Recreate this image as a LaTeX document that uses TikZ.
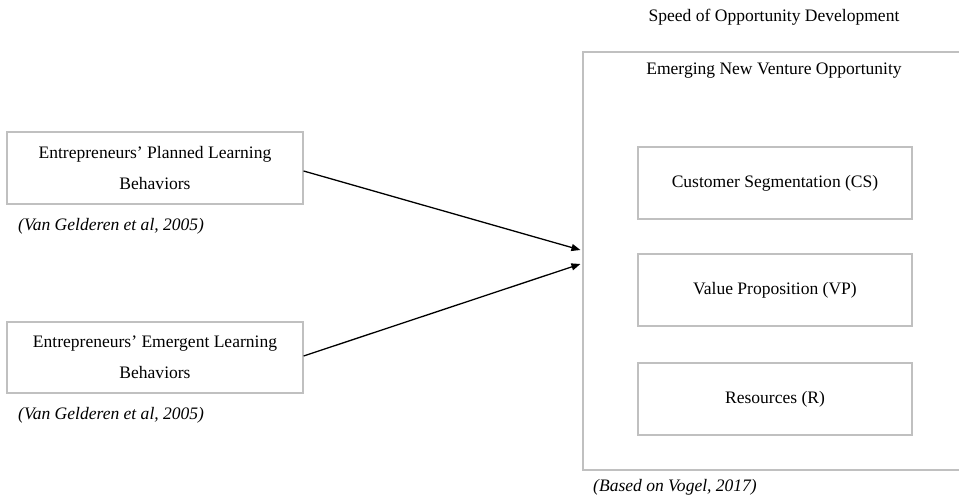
\documentclass[tikz,border=0pt]{standalone}
\usepackage{fontspec}
\setmainfont{Liberation Serif}
\usetikzlibrary{arrows.meta}
\definecolor{boxgray}{RGB}{192,192,192}
\newcommand{\bodysize}{\fontsize{17.6pt}{31pt}\selectfont}
\tikzset{
  panel/.style={draw=boxgray, line width=1.2bp, rectangle, inner sep=0pt, align=center},
  cite/.style={anchor=west, inner sep=0pt, font=\bodysize\itshape},
  flow/.style={line width=1.3bp, -{Triangle[length=9bp,width=7bp]}},
}
\begin{document}
\begin{tikzpicture}[x=1bp, y=-1bp, font=\bodysize]
\useasboundingbox[fill=white] (0,0) rectangle (959,498);

% learning behaviours (inputs)
\node[panel, minimum width=296bp, minimum height=72bp] (plan) at (155,168)
  {Entrepreneurs’ Planned Learning\\Behaviors};
\node[cite] (plancite) at (18,226) {(Van Gelderen et al, 2005)};

\node[panel, minimum width=296bp, minimum height=71bp] (emer) at (155,357.5)
  {Entrepreneurs’ Emergent Learning\\Behaviors};
\node[cite] (emercite) at (18,415) {(Van Gelderen et al, 2005)};

% opportunity frame (runs past the right margin)
\node[inner sep=0pt] (speed) at (774,17) {Speed of Opportunity Development};
\node[panel, minimum width=382bp, minimum height=418bp] (opp) at (774,261) {};
\node[inner sep=0pt] (emtitle) at (774,71) {Emerging New Venture Opportunity};

\node[panel, minimum width=274bp, minimum height=72bp] (cs) at (775,183) {Customer Segmentation (CS)};
\node[panel, minimum width=274bp, minimum height=72bp] (vp) at (775,290) {Value Proposition (VP)};
\node[panel, minimum width=274bp, minimum height=72bp] (res) at (775,399) {Resources (R)};

\node[cite] (vogel) at (593,487) {(Based on Vogel, 2017)};

% connectors
\draw[flow] ([shift={(0,3)}]plan.east) -- ([shift={(-2,-11)}]opp.west);
\draw[flow] ([shift={(0,-1.5)}]emer.east) -- ([shift={(-2,3)}]opp.west);
\end{tikzpicture}
\end{document}
